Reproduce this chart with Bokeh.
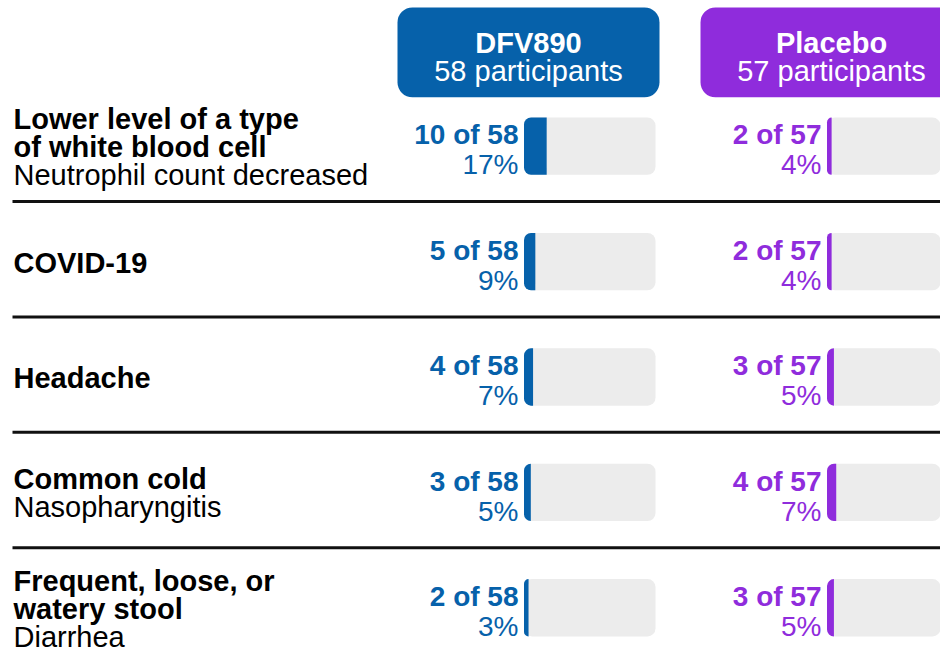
from bokeh.plotting import figure
from bokeh.models import ColumnDataSource, Range1d
from bokeh.core.properties import value
from bokeh.embed import file_html
from bokeh.resources import INLINE

# ---------------- data ----------------
groups = ["DFV890", "Placebo"]
group_sizes = [58, 57]
event_names = [
    ["Lower level of a type", "of white blood cell"],
    ["COVID-19"],
    ["Headache"],
    ["Common cold"],
    ["Frequent, loose, or", "watery stool"],
]
event_terms = ["Neutrophil count decreased", "", "", "Nasopharyngitis", "Diarrhea"]
dfv890_counts = [10, 5, 4, 3, 2]
placebo_counts = [2, 2, 3, 4, 3]

# ---------------- style / layout ----------------
COLORS = ["#0661AA", "#8F2CDC"]
TRACK_COLOR = "#ECECEC"
TEXT_COLOR = "#000000"
FONT = value("Liberation Sans")
FS_LABEL = "29px"
FS_COUNT = "28px"
W, H = 940, 654
REF_W, REF_H = 940, 662   # layout units (pixels of the design)
TXT_ADJ = -9.0            # baseline correction for text rendering

def sy(v):  # design y (top-down) -> data y (bottom-up)
    return REF_H - v

ROW0, ROW_STEP = 147.5, 116.8
TRACK_X0 = [523.5, 826.5]
TRACK_W, TRACK_H = 131.5, 58
LH = 28.5

p = figure(width=W, height=H, output_backend="svg", toolbar_location=None,
           x_range=Range1d(0, REF_W), y_range=Range1d(0, REF_H),
           min_border=0, outline_line_color=None, background_fill_color="white",
           border_fill_color="white")
p.axis.visible = False
p.grid.visible = False

centers = [ROW0 + ROW_STEP * i for i in range(len(event_names))]

# separators
seps = [c + 56 for c in centers[:-1]]
p.segment(x0=[12] * len(seps), x1=[970] * len(seps), y0=[sy(s) for s in seps],
          y1=[sy(s) for s in seps], line_color="#111111", line_width=3)

# headers
for gi, (g, n) in enumerate(zip(groups, group_sizes)):
    cx = TRACK_X0[gi] + 4.5
    p.quad(left=[cx - 131], right=[cx + 131], top=[sy(7)], bottom=[sy(98)],
           fill_color=COLORS[gi], line_color=None, border_radius=15)
    p.text(x=[cx], y=[sy(52 + TXT_ADJ)], text=[g], text_align="center",
           text_baseline="alphabetic", text_font=FONT, text_font_size=FS_LABEL,
           text_font_style="bold", text_color="white")
    p.text(x=[cx], y=[sy(80 + TXT_ADJ)], text=[f"{n} participants"], text_align="center",
           text_baseline="alphabetic", text_font=FONT, text_font_size=FS_LABEL,
           text_font_style="normal", text_color="white")

# row labels
bold_x, bold_y, bold_t, norm_x, norm_y, norm_t = [], [], [], [], [], []
for i, (names, term) in enumerate(zip(event_names, event_terms)):
    lines = [(t, True) for t in names] + ([(term, False)] if term else [])
    n = len(lines)
    for k, (t, b) in enumerate(lines):
        yb = centers[i] + (k - (n - 1) / 2) * LH + 10 + TXT_ADJ
        if b:
            bold_x.append(13); bold_y.append(sy(yb)); bold_t.append(t)
        else:
            norm_x.append(13); norm_y.append(sy(yb)); norm_t.append(t)
p.text(x=bold_x, y=bold_y, text=bold_t, text_align="left", text_baseline="alphabetic",
       text_font=FONT, text_font_size=FS_LABEL, text_font_style="bold", text_color=TEXT_COLOR)
p.text(x=norm_x, y=norm_y, text=norm_t, text_align="left", text_baseline="alphabetic",
       text_font=FONT, text_font_size=FS_LABEL, text_font_style="normal", text_color=TEXT_COLOR)

# bars and counts
for gi, counts in enumerate([dfv890_counts, placebo_counts]):
    n = group_sizes[gi]
    x0 = TRACK_X0[gi]
    src = ColumnDataSource(dict(
        y=[sy(c) for c in centers],
        left=[x0] * len(counts),
        right_track=[x0 + TRACK_W] * len(counts),
        right_fill=[x0 + TRACK_W * c / n for c in counts],
        ty1=[sy(c - 2.5 + TXT_ADJ) for c in centers],
        ty2=[sy(c + 28 + TXT_ADJ) for c in centers],
        tx=[x0 - 5.5] * len(counts),
        lab1=[f"{c} of {n}" for c in counts],
        lab2=[f"{round(100 * c / n)}%" for c in counts],
    ))
    p.hbar(y="y", left="left", right="right_track", height=TRACK_H, source=src,
           fill_color=TRACK_COLOR, line_color=None, border_radius=8)
    p.hbar(y="y", left="left", right="right_fill", height=TRACK_H, source=src,
           fill_color=COLORS[gi], line_color=None, border_radius=(7, 0, 0, 7))
    p.text(x="tx", y="ty1", text="lab1", source=src, text_align="right",
           text_baseline="alphabetic", text_font=FONT, text_font_size=FS_COUNT,
           text_font_style="bold", text_color=COLORS[gi])
    p.text(x="tx", y="ty2", text="lab2", source=src, text_align="right",
           text_baseline="alphabetic", text_font=FONT, text_font_size=FS_COUNT,
           text_font_style="normal", text_color=COLORS[gi])

open("out.html", "w").write(file_html(p, INLINE))
